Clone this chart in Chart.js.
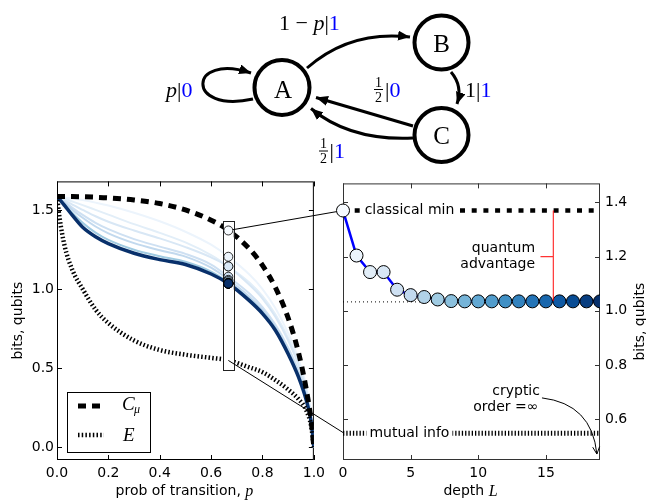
<!DOCTYPE html>
<html>
<head>
<meta charset="utf-8">
<script src="https://cdn.jsdelivr.net/npm/chart.js@4.4.1/dist/chart.umd.min.js"></script>
<style>
html, body { margin: 0; padding: 0; background: #fff; }
#wrap { position: relative; width: 646px; height: 502px; overflow: hidden; }
#left { position: absolute; left: 0; top: 170px; }
#right { position: absolute; left: 330px; top: 170px; }
#overlay { position: absolute; left: 0; top: 0; pointer-events: none; }
</style>
</head>
<body>
<div id="wrap">
<canvas id="left" width="330" height="332"></canvas>
<canvas id="right" width="316" height="332"></canvas>
<svg id="overlay" width="646" height="502" xmlns="http://www.w3.org/2000/svg">
	<defs>
		<marker id="ah" markerUnits="userSpaceOnUse" markerWidth="13" markerHeight="10" refX="12" refY="5" orient="auto">
			<path d="M0,0 L12,5 L0,10 z" fill="#000"/>
		</marker>
	</defs>
	<!-- state diagram -->
	<g fill="none" stroke="#000" stroke-width="3">
		<path d="M253,99 C185,114 188,52 251,73" marker-end="url(#ah)"/>
		<path d="M307,68 Q350,30 410,37" marker-end="url(#ah)"/>
		<path d="M451,72 Q463,86 457,104" marker-end="url(#ah)"/>
		<path d="M413,126 L316,97.5" marker-end="url(#ah)"/>
		<path d="M413,138 Q350,141 311,108.5" marker-end="url(#ah)"/>
	</g>
	<g fill="#fff" stroke="#000" stroke-width="4">
		<circle cx="282" cy="87.5" r="27.5"/>
		<circle cx="441.5" cy="42.5" r="27"/>
		<circle cx="441.5" cy="135" r="27"/>
	</g>
	<g font-family="Liberation Serif, DejaVu Serif, serif" font-size="25" text-anchor="middle" fill="#000">
		<text x="283" y="98">A</text>
		<text x="441.5" y="51.5">B</text>
		<text x="441.5" y="143.5">C</text>
	</g>
	<g font-family="Liberation Serif, DejaVu Serif, serif" font-size="22" fill="#000">
		<text x="166" y="97"><tspan font-style="italic">p</tspan>|<tspan fill="#0000ff">0</tspan></text>
		<text x="279" y="30">1 − <tspan font-style="italic">p</tspan>|<tspan fill="#0000ff">1</tspan></text>
		<text x="465" y="97">1|<tspan fill="#0000ff">1</tspan></text>
		<text x="385" y="97">|<tspan fill="#0000ff">0</tspan></text>
		<text x="329.5" y="158">|<tspan fill="#0000ff">1</tspan></text>
		<g font-size="14" text-anchor="middle">
			<text x="378.5" y="86.5">1</text>
			<text x="378.5" y="101.5">2</text>
			<text x="323.5" y="148">1</text>
			<text x="323.5" y="163">2</text>
		</g>
		<line x1="374" y1="89.5" x2="383" y2="89.5" stroke="#000" stroke-width="1"/>
		<line x1="319" y1="151" x2="328" y2="151" stroke="#000" stroke-width="1"/>
	</g>
	<!-- zoom connectors, placed from the chart scales below -->
	<line id="link1" stroke="#000" stroke-width="1"/>
	<line id="link2" stroke="#000" stroke-width="1"/>
</svg>
</div>
<script>
// transition probability grid (left panel)
const pGrid = [0, 0.01, 0.03, 0.06, 0.1, 0.15, 0.2, 0.3, 0.4, 0.5, 0.6, 0.667, 0.75, 0.8, 0.85, 0.9, 0.94, 0.97, 0.99, 1];
// statistical complexity C_mu
const cMu = [1.585, 1.585, 1.584, 1.584, 1.583, 1.58, 1.576, 1.563, 1.54, 1.5, 1.435, 1.371, 1.252, 1.149, 1.01, 0.817, 0.6, 0.37, 0.16, 0];
// excess entropy E
const excessE = [1.585, 1.45, 1.27, 1.12, 1.0, 0.87, 0.785, 0.675, 0.615, 0.585, 0.565, 0.55, 0.505, 0.475, 0.425, 0.365, 0.305, 0.235, 0.13, 0];
// quantum memory curves for a few depths L
const qL1 = [1.585, 1.583, 1.579, 1.572, 1.562, 1.546, 1.528, 1.482, 1.428, 1.362, 1.28, 1.205, 1.09, 1.0, 0.88, 0.72, 0.56, 0.39, 0.2, 0];
const qL2 = [1.585, 1.58, 1.57, 1.553, 1.53, 1.5, 1.47, 1.41, 1.355, 1.295, 1.215, 1.144, 1.04, 0.955, 0.84, 0.69, 0.535, 0.37, 0.19, 0];
const qL3 = [1.585, 1.577, 1.56, 1.533, 1.5, 1.46, 1.425, 1.37, 1.32, 1.265, 1.2, 1.142, 1.025, 0.94, 0.825, 0.675, 0.52, 0.36, 0.185, 0];
const qL4 = [1.585, 1.574, 1.55, 1.513, 1.468, 1.418, 1.378, 1.315, 1.268, 1.222, 1.155, 1.078, 0.97, 0.885, 0.775, 0.63, 0.485, 0.335, 0.17, 0];
const qL5 = [1.585, 1.572, 1.544, 1.5, 1.45, 1.395, 1.352, 1.29, 1.245, 1.205, 1.135, 1.06, 0.95, 0.868, 0.762, 0.615, 0.47, 0.325, 0.165, 0];
const qL7 = [1.585, 1.569, 1.534, 1.48, 1.418, 1.356, 1.31, 1.248, 1.207, 1.172, 1.11, 1.042, 0.935, 0.855, 0.75, 0.6, 0.455, 0.315, 0.16, 0];
const qL19 = [1.585, 1.567, 1.527, 1.465, 1.39, 1.33, 1.287, 1.226, 1.186, 1.155, 1.095, 1.035, 0.925, 0.845, 0.74, 0.59, 0.445, 0.3, 0.155, 0];

// right panel: depth L and quantum memory at p = 2/3
const depth = [0, 1, 2, 3, 4, 5, 6, 7, 8, 9, 10, 11, 12, 13, 14, 15, 16, 17, 18, 19];
const quantumMem = [1.37, 1.204, 1.143, 1.143, 1.078, 1.058, 1.051, 1.042, 1.036, 1.035, 1.035, 1.035, 1.035, 1.035, 1.035, 1.035, 1.035, 1.035, 1.035, 1.035];
const pZoom = 0.667;
const classicalMin = 1.37;
const mutualInfo = 0.549;
const quantumLimit = 1.033;

// tick labels
const xTicksLeft = [0, 0.2, 0.4, 0.6, 0.8, 1.0];
const yTicksLeft = [0, 0.5, 1.0, 1.5];
const xTicksRight = [0, 5, 10, 15];
const yTicksRight = [0.6, 0.8, 1.0, 1.2, 1.4];

// matplotlib "Blues" colormap
const bluesStops = [[247,251,255],[222,235,247],[198,219,239],[158,202,225],[107,174,214],[66,146,198],[33,113,181],[8,81,156],[8,48,107]];
function blues(t) {
	const s = Math.max(0, Math.min(1, t)) * (bluesStops.length - 1);
	const i = Math.min(Math.floor(s), bluesStops.length - 2);
	const f = s - i;
	const c = bluesStops[i].map((v, k) => Math.round(v + (bluesStops[i + 1][k] - v) * f));
	return 'rgb(' + c.join(',') + ')';
}
const pointColors = depth.map(L => blues(L / 19));

Chart.defaults.font.family = 'DejaVu Sans';
Chart.defaults.font.size = 14;
Chart.defaults.color = '#000';

const toXY = (xs, ys) => xs.map((x, i) => ({ x: x, y: ys[i] }));
const noGrid = { display: false, drawTicks: false };

// frame and inward ticks on all four sides
function framePlugin(color) {
	return {
		id: 'frame',
		beforeDatasetsDraw(chart) {
			const { ctx, chartArea: a, scales } = chart;
			ctx.save();
			ctx.strokeStyle = color;
			ctx.lineWidth = 1;
			ctx.strokeRect(a.left + 0.5, a.top + 0.5, a.right - a.left - 1, a.bottom - a.top - 1);
			ctx.beginPath();
			scales.x.ticks.forEach(t => {
				const x = Math.round(scales.x.getPixelForValue(t.value)) + 0.5;
				ctx.moveTo(x, a.bottom); ctx.lineTo(x, a.bottom - 5);
				ctx.moveTo(x, a.top); ctx.lineTo(x, a.top + 5);
			});
			scales.y.ticks.forEach(t => {
				const y = Math.round(scales.y.getPixelForValue(t.value)) + 0.5;
				ctx.moveTo(a.left, y); ctx.lineTo(a.left + 5, y);
				ctx.moveTo(a.right, y); ctx.lineTo(a.right - 5, y);
			});
			ctx.stroke();
			ctx.restore();
		}
	};
}

// text made of plain + italic pieces, centred on x
function drawMixed(ctx, parts, x, y) {
	let w = 0;
	parts.forEach(p => { ctx.font = p.f; w += ctx.measureText(p.t).width; });
	let cx = x - w / 2;
	ctx.textAlign = 'left';
	ctx.textBaseline = 'middle';
	parts.forEach(p => { ctx.font = p.f; ctx.fillText(p.t, cx, y); cx += ctx.measureText(p.t).width; });
}

function titlesPlugin(xParts, yParts, yTitleX) {
	return {
		id: 'titles',
		afterDraw(chart) {
			const { ctx, chartArea: a } = chart;
			ctx.save();
			ctx.fillStyle = '#000';
			drawMixed(ctx, xParts, (a.left + a.right) / 2 - 1, 321.5);
			ctx.translate(yTitleX, (a.top + a.bottom) / 2);
			ctx.rotate(-Math.PI / 2);
			drawMixed(ctx, yParts, 0, 0);
			ctx.restore();
		}
	};
}

const SANS = '14px DejaVu Sans';
const ITAL = 'italic 16px Liberation Serif';

// ---------- left panel ----------
const curveSets = [
	{ L: 1, v: qL1 }, { L: 2, v: qL2 }, { L: 3, v: qL3 }, { L: 4, v: qL4 },
	{ L: 5, v: qL5 }, { L: 7, v: qL7 }, { L: 19, v: qL19 }
];

const leftDatasets = curveSets.map((c, i) => ({
	data: toXY(pGrid, c.v),
	borderColor: blues(c.L / 19),
	borderWidth: c.L === 19 ? 3.5 : 2,
	pointRadius: 0,
	cubicInterpolationMode: 'monotone',
	order: 20 - i
}));
leftDatasets.push({
	label: 'C_mu',
	data: toXY(pGrid, cMu),
	borderColor: '#000',
	borderWidth: 5,
	borderDash: [8, 6],
	pointRadius: 0,
	cubicInterpolationMode: 'monotone',
	order: 2
}, {
	label: 'E',
	data: toXY(pGrid, excessE),
	borderColor: '#000',
	borderWidth: 4.5,
	borderDash: [1.5, 2.2],
	pointRadius: 0,
	cubicInterpolationMode: 'monotone',
	order: 1
}, {
	label: 'zoom',
	data: quantumMem.map(v => ({ x: pZoom, y: v })),
	showLine: false,
	pointRadius: 4.5,
	pointBackgroundColor: pointColors,
	pointBorderColor: '#000',
	pointBorderWidth: 0.8,
	order: 0
});

const leftExtras = {
	id: 'leftExtras',
	beforeDatasetDraw(chart, args) {
		// white window around p = 2/3, drawn just before its circles
		if (chart.data.datasets[args.index].label !== 'zoom') return;
		const { ctx, scales: { x, y } } = chart;
		const x0 = x.getPixelForValue(0.647), x1 = x.getPixelForValue(0.688);
		const y0 = y.getPixelForValue(1.43), y1 = y.getPixelForValue(0.487);
		ctx.save();
		ctx.fillStyle = '#fff';
		ctx.fillRect(x0, y0, x1 - x0, y1 - y0);
		ctx.strokeStyle = '#222';
		ctx.lineWidth = 1;
		ctx.strokeRect(Math.round(x0) + 0.5, Math.round(y0) + 0.5, Math.round(x1 - x0), Math.round(y1 - y0));
		ctx.restore();
	},
	afterDatasetsDraw(chart) {
		// legend box
		const { ctx, chartArea: a } = chart;
		const bx = a.left + 10, by = a.bottom - 68;
		ctx.save();
		ctx.fillStyle = '#fff';
		ctx.fillRect(bx, by, 83, 60);
		ctx.strokeStyle = '#000';
		ctx.lineWidth = 1;
		ctx.strokeRect(Math.round(bx) + 0.5, by + 0.5, 83, 60);
		ctx.lineWidth = 5;
		ctx.setLineDash([8, 6]);
		ctx.beginPath(); ctx.moveTo(bx + 11, by + 14); ctx.lineTo(bx + 34, by + 14); ctx.stroke();
		ctx.lineWidth = 4.5;
		ctx.setLineDash([1.5, 2.2]);
		ctx.beginPath(); ctx.moveTo(bx + 11, by + 43); ctx.lineTo(bx + 37, by + 43); ctx.stroke();
		ctx.setLineDash([]);
		ctx.fillStyle = '#000';
		ctx.textAlign = 'left';
		ctx.textBaseline = 'middle';
		ctx.font = 'italic 19px Liberation Serif';
		ctx.fillText('C', bx + 55, by + 13);
		ctx.font = 'italic 12px Liberation Serif';
		ctx.fillText('μ', bx + 67, by + 18);
		ctx.font = 'italic 19px Liberation Serif';
		ctx.fillText('E', bx + 56, by + 44);
		ctx.restore();
	}
};

const leftChart = new Chart(document.getElementById('left'), {
	type: 'line',
	data: { datasets: leftDatasets },
	options: {
		responsive: false,
		animation: false,
		layout: { padding: { top: 10, right: 14, left: 0, bottom: 0 } },
		plugins: { legend: { display: false }, tooltip: { enabled: false } },
		scales: {
			x: {
				type: 'linear', min: 0, max: 1,
				grid: noGrid, border: { display: false },
				afterBuildTicks: s => { s.ticks = xTicksLeft.map(v => ({ value: v })); },
				afterFit: s => { s.height = 42; },
				ticks: { padding: 5, autoSkip: false, maxRotation: 0, callback: v => v.toFixed(1) }
			},
			y: {
				type: 'linear', min: -0.08, max: 1.68,
				grid: noGrid, border: { display: false },
				afterBuildTicks: s => { s.ticks = yTicksLeft.map(v => ({ value: v })); },
				afterFit: s => { s.width = 57; },
				ticks: { padding: 3, callback: v => v.toFixed(1) }
			}
		}
	},
	plugins: [framePlugin('#000'), leftExtras,
		titlesPlugin([{ t: 'prob of transition, ', f: SANS }, { t: 'p', f: ITAL }], [{ t: 'bits, qubits', f: SANS }], 18)]
});

// ---------- right panel ----------
const rightExtras = {
	id: 'rightExtras',
	afterDatasetsDraw(chart) {
		const { ctx, scales: { x, y } } = chart;
		ctx.save();
		ctx.font = '14px DejaVu Sans';
		ctx.textBaseline = 'middle';
		ctx.textAlign = 'left';
		const boxed = (text, L, v) => {
			const px = x.getPixelForValue(L), py = y.getPixelForValue(v);
			const w = ctx.measureText(text).width;
			ctx.fillStyle = '#fff';
			ctx.fillRect(px - 3, py - 9, w + 6, 18);
			ctx.fillStyle = '#000';
			ctx.fillText(text, px, py);
		};
		boxed('classical min', 1.6, classicalMin);
		boxed('mutual info', 1.95, mutualInfo);

		// quantum advantage bracket
		const bx = x.getPixelForValue(15.55);
		ctx.strokeStyle = 'rgba(255,0,0,0.8)';
		ctx.lineWidth = 1.2;
		ctx.beginPath();
		ctx.moveTo(bx, y.getPixelForValue(classicalMin));
		ctx.lineTo(bx, y.getPixelForValue(1.036));
		ctx.moveTo(x.getPixelForValue(14.6), y.getPixelForValue(1.2));
		ctx.lineTo(bx, y.getPixelForValue(1.2));
		ctx.stroke();

		ctx.fillStyle = '#000';
		ctx.textAlign = 'right';
		const qx = x.getPixelForValue(14.2), qy = y.getPixelForValue(1.2);
		ctx.fillText('quantum', qx, qy - 8);
		ctx.fillText('advantage', qx, qy + 8);

		// cryptic order annotation
		const cx = x.getPixelForValue(14.45), cy = y.getPixelForValue(0.675);
		ctx.fillText('cryptic', cx + 1.5, cy - 8);
		ctx.fillText('order =∞', cx, cy + 8);
		const s = [x.getPixelForValue(14.71), y.getPixelForValue(0.679)];
		const c = [x.getPixelForValue(18.4), y.getPixelForValue(0.657)];
		const e = [x.getPixelForValue(18.77), y.getPixelForValue(0.472)];
		ctx.strokeStyle = '#000';
		ctx.lineWidth = 1;
		ctx.beginPath();
		ctx.moveTo(s[0], s[1]);
		ctx.quadraticCurveTo(c[0], c[1], e[0], e[1]);
		const ang = Math.atan2(e[1] - c[1], e[0] - c[0]);
		ctx.moveTo(e[0] - 8 * Math.cos(ang - 0.45), e[1] - 8 * Math.sin(ang - 0.45));
		ctx.lineTo(e[0], e[1]);
		ctx.lineTo(e[0] - 8 * Math.cos(ang + 0.45), e[1] - 8 * Math.sin(ang + 0.45));
		ctx.stroke();
		ctx.restore();
	}
};

const ends = [depth[0], depth[depth.length - 1]];
const rightChart = new Chart(document.getElementById('right'), {
	type: 'line',
	data: {
		datasets: [{
			data: toXY(depth, quantumMem),
			borderColor: '#0000ff',
			borderWidth: 2.5,
			pointRadius: 6.5,
			pointBackgroundColor: pointColors,
			pointBorderColor: '#000',
			pointBorderWidth: 1,
			tension: 0,
			clip: { left: false, top: false, right: 0, bottom: false },
			order: 0
		}, {
			data: ends.map(L => ({ x: L, y: classicalMin })),
			borderColor: '#000',
			borderWidth: 4.5,
			borderDash: [5, 6.7],
			pointRadius: 0,
			order: 1
		}, {
			data: ends.map(L => ({ x: L, y: mutualInfo })),
			borderColor: '#000',
			borderWidth: 5,
			borderDash: [1.3, 2],
			pointRadius: 0,
			order: 2
		}, {
			data: ends.map(L => ({ x: L, y: quantumLimit })),
			borderColor: '#000',
			borderWidth: 1,
			borderDash: [1, 3],
			pointRadius: 0,
			order: 3
		}]
	},
	options: {
		responsive: false,
		animation: false,
		layout: { padding: { top: 10, right: 0, left: 13, bottom: 0 } },
		plugins: { legend: { display: false }, tooltip: { enabled: false } },
		scales: {
			x: {
				type: 'linear', min: 0, max: 19,
				grid: noGrid, border: { display: false },
				afterBuildTicks: s => { s.ticks = xTicksRight.map(v => ({ value: v })); },
				afterFit: s => { s.height = 42; },
				ticks: { padding: 5, autoSkip: false, maxRotation: 0 }
			},
			y: {
				type: 'linear', position: 'right', min: 0.45, max: 1.47,
				grid: noGrid, border: { display: false },
				afterBuildTicks: s => { s.ticks = yTicksRight.map(v => ({ value: v })); },
				afterFit: s => { s.width = 46; },
				ticks: { padding: 5, callback: v => v.toFixed(1) }
			}
		}
	},
	plugins: [framePlugin('#333'), rightExtras,
		titlesPlugin([{ t: 'depth ', f: SANS }, { t: 'L', f: ITAL }], [{ t: 'bits, qubits', f: SANS }], 310)]
});

// connectors from the p = 2/3 window to the depth panel
function placeLinks() {
	const lx = leftChart.scales.x, ly = leftChart.scales.y;
	const rx = rightChart.scales.x, ry = rightChart.scales.y;
	const a = [lx.getPixelForValue(pZoom), 170 + ly.getPixelForValue(quantumMem[0])];
	const b = [330 + rx.getPixelForValue(depth[0]), 170 + ry.getPixelForValue(quantumMem[0])];
	const d = Math.hypot(b[0] - a[0], b[1] - a[1]);
	const ux = (b[0] - a[0]) / d, uy = (b[1] - a[1]) / d;
	const l1 = document.getElementById('link1');
	l1.setAttribute('x1', a[0] + ux * 4.5); l1.setAttribute('y1', a[1] + uy * 4.5);
	l1.setAttribute('x2', b[0] - ux * 6.5); l1.setAttribute('y2', b[1] - uy * 6.5);
	const l2 = document.getElementById('link2');
	l2.setAttribute('x1', lx.getPixelForValue(pZoom)); l2.setAttribute('y1', 170 + ly.getPixelForValue(mutualInfo));
	l2.setAttribute('x2', 330 + rx.getPixelForValue(depth[0]) + 1); l2.setAttribute('y2', 170 + ry.getPixelForValue(mutualInfo));
}
placeLinks();
</script>
</body>
</html>
